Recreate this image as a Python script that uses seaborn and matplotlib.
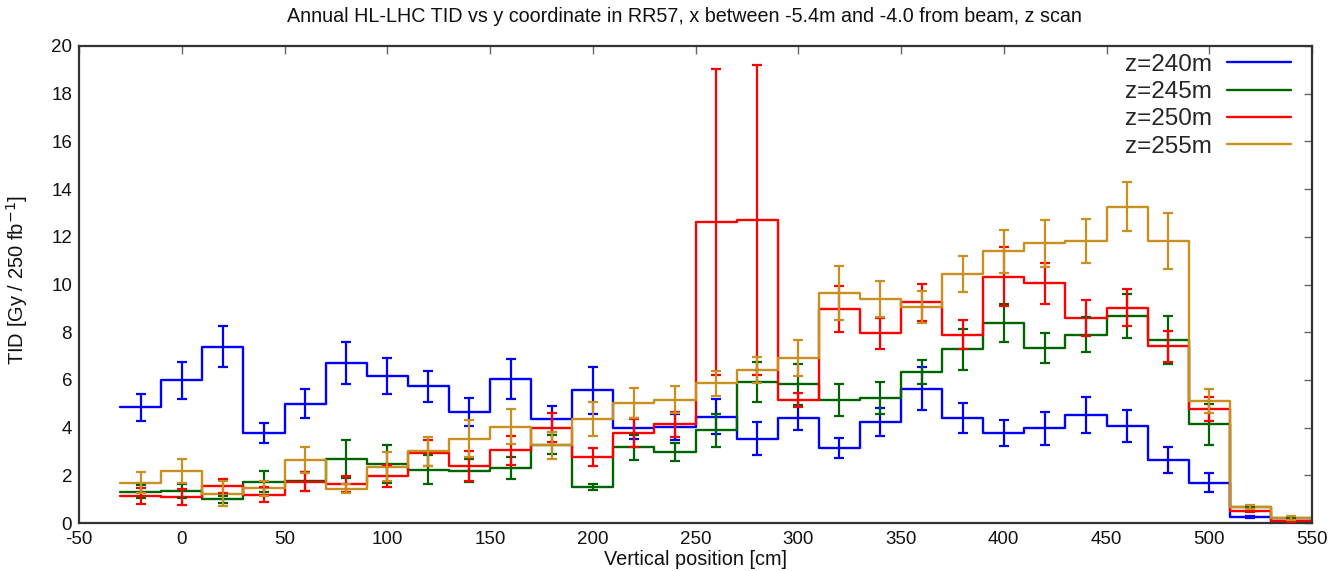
import numpy as np
import pandas as pd
import matplotlib
matplotlib.use("Agg")
import matplotlib.pyplot as plt
import seaborn as sns

# ---------------- data ----------------
centers = [-20, 0, 20, 40, 60, 80, 100, 120, 140, 160, 180, 200, 220, 240, 260,
           280, 300, 320, 340, 360, 380, 400, 420, 440, 460, 480, 500, 520, 540]
bin_width = 20

series_names = ["z=240m", "z=245m", "z=250m", "z=255m"]

tid_240 = [4.85, 5.98, 7.38, 3.77, 5.01, 6.69, 6.16, 5.73, 4.66, 6.04, 4.36, 5.56, 3.97, 4.03, 4.45,
           3.54, 4.41, 3.15, 4.24, 5.62, 4.41, 3.77, 3.97, 4.52, 4.06, 2.65, 1.69, 0.25, 0.10]
err_240 = [0.57, 0.77, 0.86, 0.42, 0.60, 0.88, 0.75, 0.65, 0.59, 0.82, 0.56, 0.98, 0.45, 0.55, 0.73,
           0.70, 0.50, 0.42, 0.60, 0.90, 0.62, 0.55, 0.68, 0.75, 0.67, 0.55, 0.40, 0.04, 0.03]

tid_245 = [1.32, 1.33, 1.00, 1.73, 1.75, 2.69, 2.48, 2.24, 2.20, 2.30, 3.28, 1.52, 3.17, 2.97, 3.89,
           5.91, 5.82, 5.15, 5.24, 6.33, 7.28, 8.37, 7.34, 7.90, 8.68, 7.68, 4.13, 0.68, 0.20]
err_245 = [0.27, 0.30, 0.15, 0.43, 0.40, 0.80, 0.80, 0.60, 0.47, 0.45, 0.40, 0.12, 0.52, 0.37, 0.70,
           0.85, 0.86, 0.66, 0.66, 0.52, 0.85, 0.80, 0.62, 0.75, 0.92, 1.00, 0.87, 0.05, 0.05]

tid_250 = [1.13, 1.09, 1.56, 1.19, 1.73, 1.64, 1.97, 2.94, 2.40, 3.05, 4.00, 2.76, 3.77, 4.13, 12.62,
           12.69, 5.15, 8.97, 7.96, 9.25, 7.90, 10.33, 10.05, 8.58, 9.02, 7.41, 4.78, 0.52, 0.08]
err_250 = [0.35, 0.35, 0.30, 0.30, 0.40, 0.35, 0.47, 0.55, 0.62, 0.60, 0.60, 0.37, 0.60, 0.51, 6.42,
           6.50, 0.28, 0.95, 0.65, 0.77, 0.60, 1.23, 0.86, 0.75, 0.78, 0.66, 0.50, 0.06, 0.04]

tid_255 = [1.69, 2.18, 1.23, 1.45, 2.64, 1.44, 2.36, 3.01, 3.53, 4.04, 3.25, 4.36, 5.02, 5.17, 5.86,
           6.42, 6.92, 9.65, 9.39, 9.05, 10.45, 11.39, 11.73, 11.81, 13.26, 11.81, 5.10, 0.68, 0.22]
err_255 = [0.43, 0.52, 0.53, 0.32, 0.55, 0.20, 0.60, 0.60, 0.77, 0.72, 0.56, 0.73, 0.63, 0.56, 0.52,
           0.56, 0.75, 1.14, 0.75, 0.68, 0.75, 0.90, 0.98, 0.92, 1.03, 1.18, 0.50, 0.08, 0.08]

values = [tid_240, tid_245, tid_250, tid_255]
errors = [err_240, err_245, err_250, err_255]
colors = ["#0000ff", "#006400", "#ff0000", "#c8901e"]

x_ticks = [-50, 0, 50, 100, 150, 200, 250, 300, 350, 400, 450, 500, 550]
y_ticks = [0, 2, 4, 6, 8, 10, 12, 14, 16, 18, 20]

title = "Annual HL-LHC TID vs y coordinate in RR57, x between -5.4m and -4.0 from beam, z scan"

# ---------------- build step table ----------------
edges = [c - bin_width / 2 for c in centers] + [centers[-1] + bin_width / 2]
rows = []
for name, vals in zip(series_names, values):
    ys = list(vals) + [vals[-1]]
    for i, (xe, ye) in enumerate(zip(edges, ys)):
        rows.append({"series": name, "edge": xe, "tid": ye, "order": i})
df = pd.DataFrame(rows)

# ---------------- style ----------------
sns.set_style("white")
plt.rcParams["font.family"] = ["Liberation Sans", "DejaVu Sans"]
plt.rcParams["axes.unicode_minus"] = False

fig = plt.figure(figsize=(13.41, 5.71), dpi=100)
ax = fig.add_axes([79 / 1341, 1 - 523 / 571, (1312 - 79) / 1341, (523 - 46) / 571])

palette = dict(zip(series_names, colors))
sns.lineplot(data=df, x="edge", y="tid", hue="series", palette=palette,
             drawstyle="steps-post", linewidth=1.7, sort=False, estimator=None,
             ax=ax, legend=True)

for name, vals, errs, col in zip(series_names, values, errors, colors):
    ax.errorbar(centers, vals, yerr=errs, fmt="none", ecolor=col,
                elinewidth=1.6, capsize=3.5, capthick=1.6, zorder=3)

ax.set_xlim(-50, 550)
ax.set_ylim(0, 20)
ax.set_xticks(x_ticks)
ax.set_yticks(y_ticks)
ax.tick_params(direction="in", top=True, right=True, length=6, width=1.0,
               color="#666666", labelsize=13.5, labelcolor="#111111")
ax.tick_params(axis="x", pad=6)
ax.tick_params(axis="y", pad=5)
for sp in ax.spines.values():
    sp.set_linewidth(1.6)
    sp.set_color("#333333")

ax.set_xlabel("Vertical position [cm]", fontsize=14.3, color="#111111", labelpad=1)
ax.set_ylabel("TID [Gy / 250 fb$^{-1}$]", fontsize=14.5, color="#111111", labelpad=9)
ax.yaxis.set_label_coords(-0.04, 0.51)
fig.text(684 / 1341, 1 - 16 / 571, title, ha="center", va="center",
         fontsize=14.2, color="#111111")

handles, labels = ax.get_legend_handles_labels()
leg = ax.legend(handles, labels, loc="upper right", bbox_to_anchor=(0.983, 0.984),
                frameon=False, markerfirst=False, fontsize=17.5, handlelength=2.65,
                handletextpad=0.6, labelspacing=0.22, borderaxespad=0, borderpad=0)

fig.savefig("out.png", dpi=100)
